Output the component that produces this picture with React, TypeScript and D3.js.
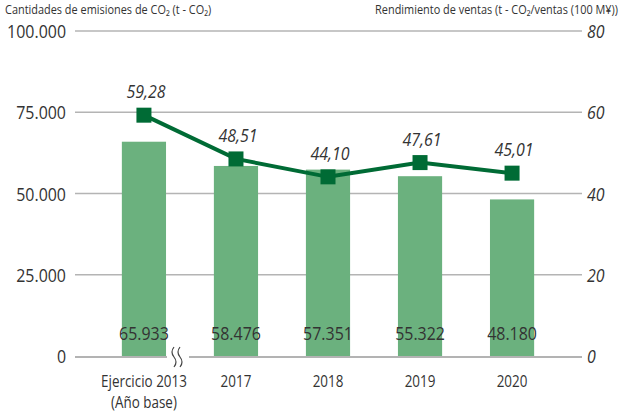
import React, { useEffect, useRef } from "react";
import * as d3 from "d3";

const categories = ["2013", "2017", "2018", "2019", "2020"];
const emissions = [65933, 58476, 57351, 55322, 48180];
const intensity = [59.28, 48.51, 44.1, 47.61, 45.01];
const leftTicks = [0, 25000, 50000, 75000, 100000];
const rightTicks = [0, 20, 40, 60, 80];

const FONT = "'Open Sans', sans-serif";
const SQ = 0.84; // horizontal squeeze to get a condensed look

const App: React.FC = () => {
  const svgRef = useRef<SVGSVGElement | null>(null);

  useEffect(() => {
    if (!svgRef.current) return;
    const svg = d3.select(svgRef.current);
    svg.selectAll("*").remove();

    const width = 621;
    const height = 416;
    svg.attr("width", width).attr("height", height).style("font-family", FONT);

    const x = d3.scaleBand<string>().domain(categories).range([74, 582]).padding(0.52);
    const yL = d3.scaleLinear().domain([0, 100000]).range([356, 31]);
    const yR = d3.scaleLinear().domain([0, 80]).range([356, 31]);
    const fmt = (v: number) => d3.format(",")(v).replace(/,/g, ".");
    const fmtR = (v: number) => v.toFixed(2).replace(".", ",");
    const cx = (i: number) => x(categories[i])! + x.bandwidth() / 2;

    // condensed text helper
    const label = (
      g: d3.Selection<any, unknown, null, undefined>,
      tx: number,
      ty: number,
      txt: string,
      size: number,
      anchor = "start",
      italic = false
    ) =>
      g.append("text")
        .attr("transform", `translate(${tx},${ty}) scale(${SQ},1)`)
        .attr("text-anchor", anchor)
        .attr("font-size", size)
        .attr("font-style", italic ? "italic" : "normal")
        .attr("fill", "#333")
        .text(txt);

    // titles
    label(svg, 5, 14, "Cantidades de emisiones de CO\u2082 (t - CO\u2082)", 13);
    label(svg, 618, 14, "Rendimiento de ventas (t - CO\u2082/ventas (100 M\u00a5))", 13, "end");

    // grid
    const grid = svg.append("g");
    leftTicks.slice(1).forEach((t) => {
      grid.append("line").attr("x1", 75).attr("x2", 582)
        .attr("y1", yL(t)).attr("y2", yL(t))
        .attr("stroke", "#b4b4b4").attr("stroke-width", 1.5);
    });

    // tick labels
    const ticks = svg.append("g");
    leftTicks.forEach((t) => label(ticks, 66, yL(t) + 7, fmt(t), 19, "end"));
    rightTicks.forEach((t) => label(ticks, 587, yR(t) + 7, String(t), 19, "start", true));

    // bars
    svg.append("g").selectAll("rect").data(emissions).enter().append("rect")
      .attr("x", (_, i) => x(categories[i])!)
      .attr("y", (d) => yL(d))
      .attr("width", x.bandwidth())
      .attr("height", (d) => yL(0) - yL(d))
      .attr("fill", "#6bb17e");

    // baseline with break
    const base = yL(0) + 1;
    const gb = svg.append("g").attr("stroke", "#9a9a9a").attr("stroke-width", 1.5).attr("fill", "none");
    gb.append("line").attr("x1", 75).attr("x2", 167).attr("y1", base).attr("y2", base);
    gb.append("line").attr("x1", 189).attr("x2", 582).attr("y1", base).attr("y2", base);
    [175, 181].forEach((bx) => {
      gb.append("path")
        .attr("d", `M${bx - 1},${base - 10} q-4,5 0,10 q4,5 0,10`)
        .attr("stroke", "#444").attr("stroke-width", 1.2);
    });

    // bar value labels
    const vals = svg.append("g");
    emissions.forEach((v, i) => label(vals, cx(i), 340, fmt(v), 19, "middle"));

    // x labels
    const xl = svg.append("g");
    categories.forEach((c, i) => {
      label(xl, cx(i), 387, i === 0 ? "Ejercicio 2013" : c, 16, "middle");
      if (i === 0) label(xl, cx(i), 408, "(A\u00f1o base)", 16, "middle");
    });

    // line
    const line = d3.line<number>()
      .x((_, i) => cx(i))
      .y((d) => yR(d));
    svg.append("path").datum(intensity).attr("d", line).attr("fill", "none")
      .attr("stroke", "#006b35").attr("stroke-width", 4);

    const ms = 15;
    svg.append("g").selectAll("rect").data(intensity).enter().append("rect")
      .attr("x", (_, i) => cx(i) - ms / 2)
      .attr("y", (d) => yR(d) - ms / 2)
      .attr("width", ms).attr("height", ms).attr("fill", "#006b35");

    const lv = svg.append("g");
    intensity.forEach((v, i) => label(lv, cx(i) + 2, yR(v) - 17, fmtR(v), 19, "middle", true));
  }, []);

  return <svg ref={svgRef} style={{ position: "absolute", left: 0, top: 0 }}></svg>;
};

export default App;
